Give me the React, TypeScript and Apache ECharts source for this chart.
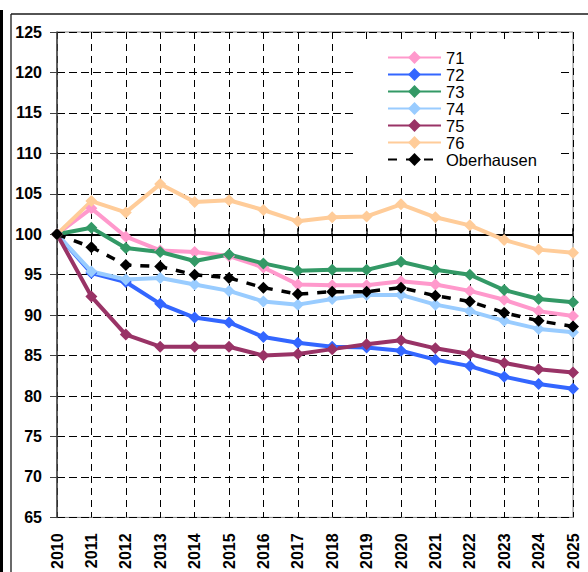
import React, { useEffect, useRef } from "react";
import * as echarts from "echarts";

// Years on the category axis
const years = [
  "2010", "2011", "2012", "2013", "2014", "2015", "2016", "2017",
  "2018", "2019", "2020", "2021", "2022", "2023", "2024", "2025",
];

// Index values (2010 = 100) per district
const d71 = [100, 103.2, 99.7, 98.0, 97.8, 97.3, 95.9, 93.8, 93.7, 93.7, 94.2, 93.8, 93.0, 91.9, 90.5, 89.9];
const d72 = [100, 95.2, 94.1, 91.4, 89.7, 89.1, 87.3, 86.6, 86.1, 86.0, 85.6, 84.5, 83.7, 82.4, 81.5, 80.9];
const d73 = [100, 100.8, 98.3, 97.8, 96.7, 97.5, 96.4, 95.5, 95.6, 95.6, 96.6, 95.6, 95.0, 93.1, 92.0, 91.6];
const d74 = [100, 95.4, 94.4, 94.6, 93.8, 93.0, 91.7, 91.3, 92.0, 92.5, 92.5, 91.3, 90.5, 89.3, 88.3, 87.9];
const d75 = [100, 92.3, 87.6, 86.1, 86.1, 86.1, 85.0, 85.2, 85.8, 86.4, 86.9, 85.9, 85.2, 84.1, 83.3, 82.9];
const d76 = [100, 104.1, 102.7, 106.2, 104.0, 104.2, 103.0, 101.6, 102.1, 102.2, 103.7, 102.1, 101.1, 99.3, 98.1, 97.7];
const oberhausen = [100, 98.4, 96.2, 96.0, 95.0, 94.6, 93.4, 92.6, 92.9, 92.9, 93.4, 92.4, 91.7, 90.3, 89.3, 88.6];

// Value axis range
const yMin = 65;
const yMax = 125;
const yStep = 5;
const baseLine = 100;

const FONT = "'Liberation Sans', Arial, sans-serif";

const W = 588;
const H = 572;
const GRID_LEFT = 57;
const GRID_TOP = 32;
const GRID_W = 516;
const GRID_H = 489;

export default function App() {
  const ref = useRef<HTMLDivElement>(null);

  useEffect(() => {
    if (!ref.current) return;
    const chart = echarts.init(ref.current, null, { renderer: "svg" });

    const mk = (name: string, data: number[], color: string, dashed = false) => ({
      name,
      type: "line",
      data,
      xAxisIndex: 0,
      yAxisIndex: 0,
      symbol: "diamond",
      symbolSize: 12,
      showAllSymbol: true,
      itemStyle: { color },
      lineStyle: dashed
        ? { color, width: 3.5, type: [9, 9] }
        : { color, width: 4 },
      emphasis: { disabled: true },
    });

    // offset that moves the tick-only category axes up to the 100 line
    const baseOffset = -((baseLine - yMin) / (yMax - yMin)) * GRID_H;

    const catAxisBase = {
      type: "category",
      data: years,
      boundaryGap: false,
      gridIndex: 0,
    };

    const series: any[] = [
      mk("71", d71, "#FF99CC"),
      mk("72", d72, "#3366FF"),
      mk("73", d73, "#339966"),
      mk("74", d74, "#99CCFF"),
      mk("75", d75, "#993366"),
      mk("76", d76, "#FFCC99"),
      mk("Oberhausen", oberhausen, "#000000", true),
    ];
    // solid reference line at 100
    series[0].markLine = {
      silent: true,
      symbol: "none",
      label: { show: false },
      lineStyle: { color: "#000", width: 2, type: "solid" },
      data: [{ yAxis: baseLine }],
      z: 1,
    };

    chart.setOption({
      animation: false,
      backgroundColor: "#ffffff",
      textStyle: { fontFamily: FONT },
      grid: {
        left: GRID_LEFT,
        top: GRID_TOP,
        width: GRID_W,
        height: GRID_H,
        show: true,
        borderColor: "#808080",
        borderWidth: 1,
        backgroundColor: "#ffffff",
      },
      xAxis: [
        {
          ...catAxisBase,
          position: "bottom",
          axisLine: { show: false },
          axisTick: { show: false },
          axisLabel: {
            rotate: 90,
            margin: 16,
            interval: 0,
            color: "#000",
            fontSize: 16,
            fontWeight: "bold",
            fontFamily: FONT,
          },
          splitLine: {
            show: true,
            interval: 0,
            lineStyle: { color: "#000", width: 1, type: [7, 5] },
          },
        },
        {
          ...catAxisBase,
          position: "bottom",
          offset: baseOffset,
          axisLine: { show: false, onZero: false },
          axisTick: { show: true, interval: 0, length: 4, lineStyle: { color: "#000", width: 1.5 } },
          axisLabel: { show: false },
          splitLine: { show: false },
        },
        {
          ...catAxisBase,
          position: "bottom",
          offset: baseOffset,
          axisLine: { show: false, onZero: false },
          axisTick: { show: true, inside: true, interval: 0, length: 4, lineStyle: { color: "#000", width: 1.5 } },
          axisLabel: { show: false },
          splitLine: { show: false },
        },
      ],
      yAxis: {
        type: "value",
        min: yMin,
        max: yMax,
        interval: yStep,
        axisLine: { show: true, lineStyle: { color: "#404040", width: 1.5 } },
        axisTick: { show: true, length: 7, lineStyle: { color: "#404040", width: 1 } },
        axisLabel: {
          margin: 15,
          color: "#000",
          fontSize: 16,
          fontWeight: "bold",
          fontFamily: FONT,
        },
        splitLine: {
          show: true,
          lineStyle: { color: "#000", width: 1, type: [8, 4] },
        },
      },
      legend: {
        orient: "vertical",
        left: 357,
        top: 43,
        padding: [6, 23, 3, 30],
        backgroundColor: "#ffffff",
        itemWidth: 53,
        itemHeight: 16,
        itemGap: 0,
        selectedMode: false,
        textStyle: {
          color: "#000",
          fontSize: 16.5,
          lineHeight: 17,
          fontFamily: FONT,
        },
        data: ["71", "72", "73", "74", "75", "76", "Oberhausen"],
      },
      series,
      graphic: [
        // outer frame lines and left edge bar
        {
          type: "rect",
          left: 0,
          top: 10,
          shape: { width: 3, height: H - 10 },
          style: { fill: "#000" },
          silent: true,
        },
        {
          type: "line",
          shape: { x1: 11, y1: 14, x2: W, y2: 14 },
          style: { stroke: "#1a1a1a", lineWidth: 1.3 },
          silent: true,
        },
        {
          type: "line",
          shape: { x1: 11, y1: 14, x2: 11, y2: H },
          style: { stroke: "#1a1a1a", lineWidth: 1.3 },
          silent: true,
        },
      ],
    });

    return () => chart.dispose();
  }, []);

  return (
    <div
      ref={ref}
      style={{ position: "absolute", left: 0, top: 0, width: W, height: H }}
    />
  );
}
